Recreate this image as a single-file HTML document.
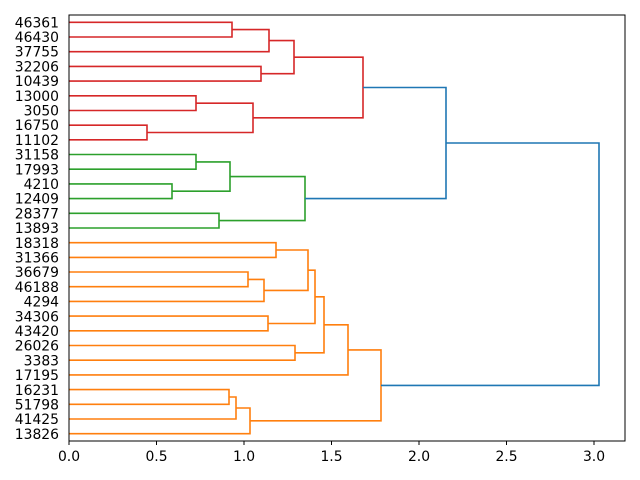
<!DOCTYPE html>
<html><head><style>body{margin:0;background:#fff}svg{display:block}text{font-family:"DejaVu Sans","Liberation Sans",sans-serif;font-size:13.9px;fill:#000}</style></head>
<body>
<svg width="640" height="480" viewBox="0 0 640 480">
<g fill="none" stroke-width="1.6">
<g stroke="#d62728">
<path d="M69 22.3H232V37H69"/>
<path d="M232 29.6H269V51.7H69"/>
<path d="M69 66.4H261V81.1H69"/>
<path d="M269 40.6H294V73.7H261"/>
<path d="M69 95.8H196V110.5H69"/>
<path d="M69 125.2H147V139.8H69"/>
<path d="M196 103.2H253V132.5H147"/>
<path d="M294 57.2H363V117.8H253"/>
</g>
<g stroke="#2ca02c">
<path d="M69 154.5H196V169.2H69"/>
<path d="M69 183.9H172V198.6H69"/>
<path d="M196 161.9H230V191.2H172"/>
<path d="M69 213.3H219V228H69"/>
<path d="M230 176.6H305V220.6H219"/>
</g>
<g stroke="#ff7f0e">
<path d="M69 242.7H276V257.4H69"/>
<path d="M69 272H248V286.7H69"/>
<path d="M248 279.4H264V301.4H69"/>
<path d="M276 250H308V290.4H264"/>
<path d="M69 316.1H268V330.8H69"/>
<path d="M308 270.2H315V323.5H268"/>
<path d="M69 345.5H295V360.2H69"/>
<path d="M315 296.8H324V352.8H295"/>
<path d="M324 324.8H348V374.9H69"/>
<path d="M69 389.6H229V404.3H69"/>
<path d="M229 397H236V419H69"/>
<path d="M236 408H250V433.7H69"/>
<path d="M348 349.9H381V420.8H250"/>
</g>
<g stroke="#1f77b4">
<path d="M363 87.5H446V198.6H305"/>
<path d="M446 143H599V385.4H381"/>
</g>
</g>
<rect x="69" y="15" width="556" height="426" fill="none" stroke="#000" stroke-width="1"/>
<g stroke="#000">
<path d="M69 441v4M156.5 441v4M244 441v4M331.5 441v4M419 441v4M506.5 441v4M594 441v4"/>
</g>
<g text-anchor="middle">
<text x="69" y="461">0.0</text><text x="156.5" y="461">0.5</text><text x="244" y="461">1.0</text><text x="331.5" y="461">1.5</text><text x="419" y="461">2.0</text><text x="506.5" y="461">2.5</text><text x="594" y="461">3.0</text>
</g>
<g text-anchor="end">
<text x="59" y="27.3">46361</text><text x="59" y="42">46430</text><text x="59" y="56.7">37755</text><text x="59" y="71.4">32206</text><text x="59" y="86.1">10439</text><text x="59" y="100.8">13000</text><text x="59" y="115.5">3050</text><text x="59" y="130.2">16750</text><text x="59" y="144.9">11102</text><text x="59" y="159.6">31158</text><text x="59" y="174.3">17993</text><text x="59" y="189">4210</text><text x="59" y="203.7">12409</text><text x="59" y="218.4">28377</text><text x="59" y="233.1">13893</text><text x="59" y="247.8">18318</text><text x="59" y="262.5">31366</text><text x="59" y="277.2">36679</text><text x="59" y="291.9">46188</text><text x="59" y="306.6">4294</text><text x="59" y="321.3">34306</text><text x="59" y="336">43420</text><text x="59" y="350.7">26026</text><text x="59" y="365.4">3383</text><text x="59" y="380.1">17195</text><text x="59" y="394.8">16231</text><text x="59" y="409.5">51798</text><text x="59" y="424.2">41425</text><text x="59" y="438.9">13826</text>
</g>
</svg>
</body></html>
